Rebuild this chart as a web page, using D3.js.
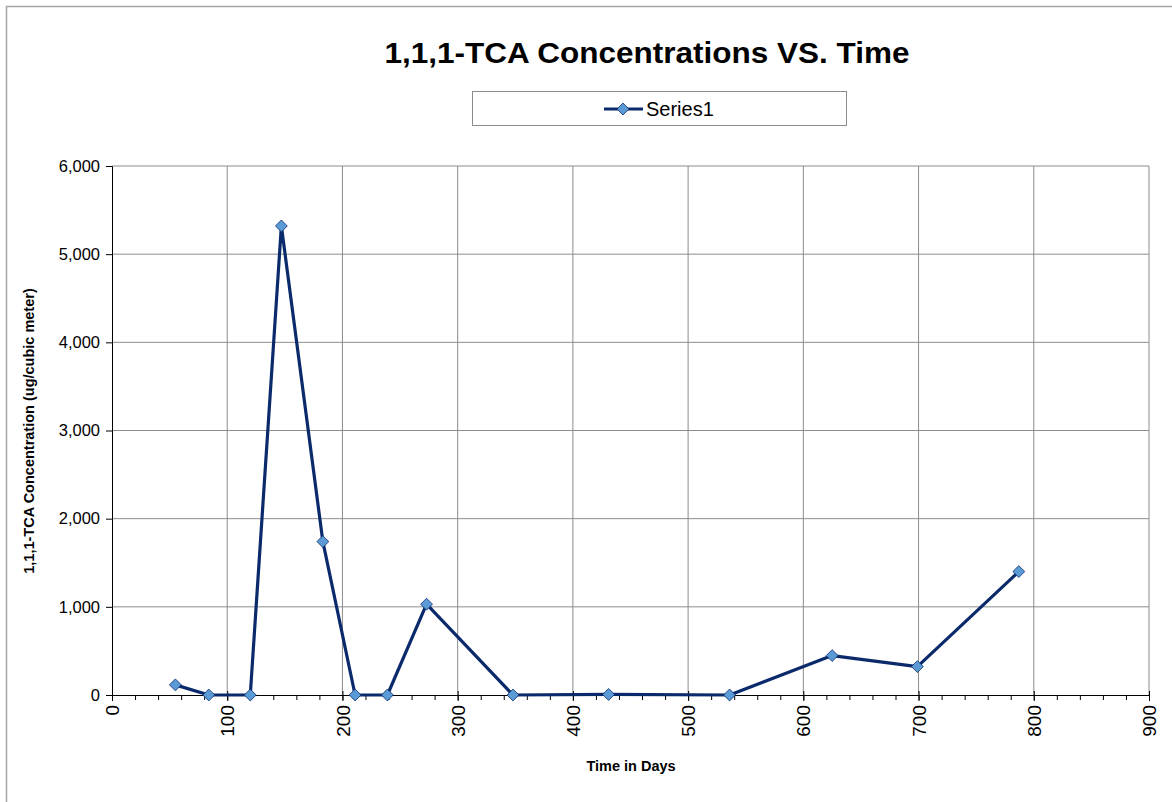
<!DOCTYPE html>
<html>
<head>
<meta charset="utf-8">
<script src="https://cdn.jsdelivr.net/npm/d3@7"></script>
<style>
  body { margin: 0; background: #fff; }
  svg { display: block; font-family: "Liberation Sans", Arial, sans-serif; }
</style>
</head>
<body>
<svg id="chart"></svg>
<script>
// data
const days = [55, 84, 120, 147, 183, 211, 239, 273, 348, 431, 536, 625, 699, 787];
const conc = [115, 0, 0, 5320, 1740, 0, 0, 1030, 0, 6, 0, 447, 322, 1400];
const xTicks = [0, 100, 200, 300, 400, 500, 600, 700, 800, 900];
const yTicks = [0, 1000, 2000, 3000, 4000, 5000, 6000];
const seriesName = "Series1";

const W = 1172, H = 802;
const plotLeft = 112, plotRight = 1149, plotTop = 166, plotBottom = 695;
const navy = "#0b2a6b";
const markerFill = "#5b9bd5";

const svg = d3.select("#chart").attr("width", W).attr("height", H);

// outer chart frame
svg.append("rect")
  .attr("x", 6.5).attr("y", 6.5)
  .attr("width", W + 20).attr("height", H + 20)
  .attr("fill", "#fff").attr("stroke", "#a6a6a6").attr("stroke-width", 1.5);

const x = d3.scaleLinear().domain([0, 900]).range([plotLeft, plotRight]);
const y = d3.scaleLinear().domain([0, 6000]).range([plotBottom, plotTop]);

// gridlines
svg.append("g").selectAll("line")
  .data(yTicks.slice(1))
  .enter().append("line")
  .attr("x1", plotLeft).attr("x2", plotRight)
  .attr("y1", d => y(d)).attr("y2", d => y(d))
  .attr("stroke", "#8c8c8c").attr("stroke-width", 1);

svg.append("g").selectAll("line")
  .data(xTicks.slice(1))
  .enter().append("line")
  .attr("x1", d => x(d)).attr("x2", d => x(d))
  .attr("y1", plotTop).attr("y2", plotBottom)
  .attr("stroke", "#8c8c8c").attr("stroke-width", 1);

// y axis
const yAxis = svg.append("g")
  .attr("transform", `translate(${plotLeft},0)`)
  .call(d3.axisLeft(y).tickValues(yTicks).tickFormat(d3.format(",")).tickSize(6).tickPadding(6));
yAxis.select(".domain").attr("stroke", "#000");
yAxis.selectAll("text").attr("font-size", 16.5).attr("fill", "#000")
  .attr("font-family", "Liberation Sans, Arial, sans-serif");

// x axis, minor ticks every 20
const xAxisMinor = svg.append("g")
  .attr("transform", `translate(0,${plotBottom})`)
  .call(d3.axisBottom(x).tickValues(d3.range(0, 901, 20)).tickSize(5).tickFormat(""));
xAxisMinor.select(".domain").remove();
xAxisMinor.selectAll("line").attr("stroke", "#000");

const xAxis = svg.append("g")
  .attr("transform", `translate(0,${plotBottom})`)
  .call(d3.axisBottom(x).tickValues(xTicks).tickSize(6).tickPadding(8));
xAxis.select(".domain").attr("stroke", "#000");
xAxis.selectAll(".tick line").attr("y1", -4).attr("stroke", "#000");
xAxis.selectAll("text")
  .attr("font-size", 19).attr("fill", "#000")
  .attr("font-family", "Liberation Sans, Arial, sans-serif")
  .attr("transform", "rotate(-90)")
  .attr("text-anchor", "end")
  .attr("x", -10).attr("y", 0).attr("dy", "0.35em");

// series line
const line = d3.line().x((d, i) => x(days[i])).y(d => y(d));
svg.append("path")
  .datum(conc)
  .attr("d", line)
  .attr("fill", "none")
  .attr("stroke", navy)
  .attr("stroke-width", 3.2)
  .attr("stroke-linejoin", "round");

const diamond = d3.symbol().type(d3.symbolDiamond2).size(90);
svg.append("g").selectAll("path")
  .data(conc)
  .enter().append("path")
  .attr("d", diamond)
  .attr("transform", (d, i) => `translate(${x(days[i])},${y(d)})`)
  .attr("fill", markerFill)
  .attr("stroke", navy)
  .attr("stroke-width", 0.8);

// title
svg.append("text")
  .attr("x", 647).attr("y", 63)
  .attr("text-anchor", "middle")
  .attr("font-size", 29).attr("font-weight", "bold")
  .attr("textLength", 525).attr("lengthAdjust", "spacingAndGlyphs")
  .text("1,1,1-TCA Concentrations VS. Time");

// legend
svg.append("rect")
  .attr("x", 472.5).attr("y", 91.5).attr("width", 374).attr("height", 34)
  .attr("fill", "#fff").attr("stroke", "#8c8c8c").attr("stroke-width", 1);
svg.append("line")
  .attr("x1", 604).attr("x2", 643).attr("y1", 109).attr("y2", 109)
  .attr("stroke", navy).attr("stroke-width", 3.2);
svg.append("path")
  .attr("d", diamond)
  .attr("transform", "translate(623,109)")
  .attr("fill", markerFill).attr("stroke", navy).attr("stroke-width", 0.8);
svg.append("text")
  .attr("x", 646).attr("y", 116)
  .attr("font-size", 20)
  .text(seriesName);

// axis titles
svg.append("text")
  .attr("x", 631).attr("y", 771)
  .attr("text-anchor", "middle")
  .attr("font-size", 14.5).attr("font-weight", "bold")
  .text("Time in Days");

svg.append("text")
  .attr("transform", "translate(34,431) rotate(-90)")
  .attr("text-anchor", "middle")
  .attr("font-size", 14.5).attr("font-weight", "bold")
  .text("1,1,1-TCA Concentration (ug/cubic meter)");
</script>
</body>
</html>
